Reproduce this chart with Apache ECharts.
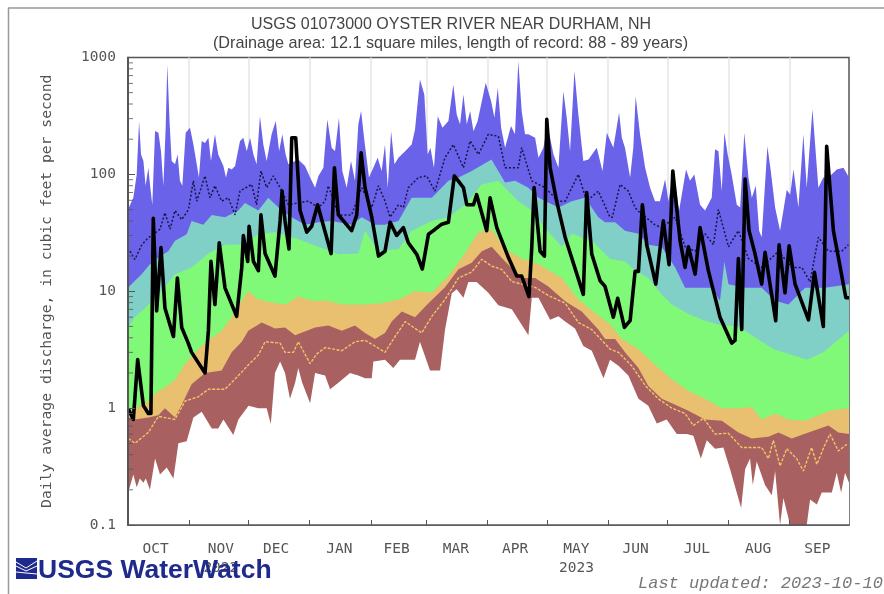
<!DOCTYPE html>
<html><head><meta charset="utf-8">
<style>html,body{margin:0;padding:0;background:#fff}#c{width:884px;height:594px}</style>
<script src="https://cdn.jsdelivr.net/npm/echarts@6/dist/echarts.min.js"></script>
</head><body><div id="c"></div>
<script>
// x values are days since 2022-10-01; y values are cubic feet per second
const monthStartDays=[31,61,92,123,151,182,212,243,273,304,335];
const monthLabelDays=[14,47,75,107,136,166,196,227,257,288,319,349];
const monthLabels=['OCT','NOV\n2022','DEC','JAN','FEB','MAR','APR','MAY\n2023','JUN','JUL','AUG','SEP'];
const yMinorTicks=[0.2,0.3,0.4,0.5,0.6,0.7,0.8,0.9,2,3,4,5,6,7,8,9,20,30,40,50,60,70,80,90,200,300,400,500,600,700,800,900];
const titleText='USGS 01073000 OYSTER RIVER NEAR DURHAM, NH';
const subtitleText='(Drainage area: 12.1 square miles, length of record: 88 - 89 years)';

const maxDays=[0,1,2.7,4.4,5.6,6.6,7.8,8.9,10.3,11.3,12.3,13.7,15.4,16.7,17.9,19.1,19.9,21.1,22.1,23.8,25.1,26.3,27.5,29.2,31.4,33.1,34.8,35.9,37.3,39,40.7,42,44,45.7,48.3,49.6,50.8,52.5,54.2,56.7,58.4,60.1,61.8,63.5,65.1,66.8,68.5,70.2,72.7,74.8,76.5,78.1,79.8,81.2,86.2,89.6,92.2,94.7,96.4,98.9,100.9,103.1,104.8,106.8,108.5,110.7,112.9,114.9,116.6,118,119.7,122,124.2,126.4,128.4,130.1,131.5,133.2,134.9,136.9,140.3,143.6,145.3,147.8,150,151.7,153.1,154.9,156.8,159.2,162.2,164.7,166.4,168.1,169.8,171.5,173.2,174.9,177,181.1,183.8,185.5,187.2,188.9,190.9,193.9,195.9,197.6,199.3,201,202.7,206.1,207.8,210.3,212.3,215.4,217.9,220.4,222.1,223.8,226,228,230.5,233.1,237.3,240.2,242.4,243.2,245.7,248.6,250,251.6,254.2,255.8,257,259.2,261.8,264.3,266.8,269.3,271.9,273.6,276.1,279,282.5,284.5,286.7,289.6,292.1,295.5,297.2,298.9,300.6,301.9,303.6,305.6,308.2,309.9,312,314.1,315.8,317.8,319.5,320.8,323.7,325.4,327.6,330.1,333.5,335.2,336.9,339.4,341.9,343.6,346.5,349.5,352,354.6,358.8,362.2,365];
const maxValues=[50,52,63,100,286,148,130,80,114,77,55,235,227,158,80,259,871,268,130,122,148,88,80,227,250,180,122,94,193,186,206,130,220,148,118,94,114,110,118,193,206,158,206,148,122,315,180,130,220,286,158,220,148,122,134,118,94,77,97,114,295,169,158,305,107,77,130,88,268,348,193,94,114,139,107,180,77,234,122,139,158,180,242,649,483,148,169,114,315,250,286,587,326,268,483,268,348,234,286,608,424,305,550,250,169,259,220,930,348,220,220,206,139,169,268,148,114,515,305,158,765,326,130,134,169,107,227,234,169,337,206,169,94,169,467,220,114,77,59,59,91,59,107,49,110,88,100,55,49,63,164,158,72,227,148,100,55,52,227,94,63,80,33,29,174,107,52,33,74,67,110,52,220,77,360,77,94,94,110,114,94];

const p90Days=[0,3.5,6.9,11.1,15.4,20.4,23.8,29.7,32.2,38.1,42.4,49.1,55.9,59.2,66,71,77.8,82.9,89.6,96.4,103,113.2,118.3,125,130,136.9,143.6,153.8,162.2,167.3,174,184,190.9,196,202.7,207.8,217.9,224.6,231.4,238.1,241.5,246.6,251.6,258.4,263.4,270.2,277,282,288.8,295.5,299.7,301.9,304,312.4,320.8,327.6,334.3,342.8,352.9,365];
const p90Values=[10.7,12.3,14,17,19.4,22,27,30.7,40,37,45,43,49,57,49,63,49,43,37,39,40,37,43,37,37,40,63,63,88,94,107,134,85,88,77,63,52,59,63,43,39,39,33,31,25,24,16,10.7,10.7,10.7,8.3,18,11.5,10.7,10.7,8.3,7.7,10.7,10.7,11.5];

const p75Days=[0,3.5,8.6,15.4,23.8,32.2,40.7,49.1,57.6,66,74.4,86,96.4,106.6,116.6,120,126.8,136.9,143.6,153.8,162.2,170.6,179,187.5,190.9,197.6,204.4,211.1,219.6,224.6,234.8,244,251.6,256.7,263.4,270.2,275.3,283.7,292.1,298.9,309,326.6,343.8,352,365];
const p75Values=[4.9,6,7.2,9.4,14,16,21,25,25,30.7,32,28,24,20.7,21,33,22,23,33,40,43,55,82,88,77,59,49,35,24,31,27,19,18,15,13,9.4,7.7,6.4,5.6,5.2,5,3.2,2.6,3,4.6];

const p25Days=[0,3.5,10.3,15.4,18.7,23.8,28.9,35.6,40.7,47.4,52.5,57.6,60.9,66,72.7,79.8,86.2,93,101,108.2,120,128.4,136.9,145.3,153.8,162.2,170.6,177.4,184.1,190.9,199.3,207.8,219.6,228,238.1,244,250,258.4,266.8,275.3,283.7,292.1,300.6,309,315.8,320.8,327.6,334.3,342.8,349.5,356.3,365];
const p25Values=[0.95,1,1.15,1.4,1.5,1.75,2.4,3.2,3.8,4.6,6,8.3,10,8.5,8,7.7,9,8.3,8.3,7.7,7.7,7.9,8.5,10,9.7,13.5,21,32,34,23,19,17,13,8.5,6.2,5.2,3.9,3.2,2.35,1.77,1.4,1.2,1,1,1.02,0.8,0.9,0.8,0.78,0.87,0.96,1];

const p10Days=[0,3.5,10.3,15.4,18.7,23.8,27.2,32.2,39,47.4,52.5,57.6,60.9,67.7,74.4,79.5,84.6,94.7,101.4,108.2,114.9,120,125,130.1,133.5,138.6,145.3,152.1,160.5,167.3,174,179.1,184.1,190.9,199.3,206.1,212.8,221.3,229.7,238.1,241.5,246.6,251.6,258.4,263.4,270.2,277,283.7,292.1,300.6,309,315.8,324.2,329.3,336,344.5,354.6,359.6,365];
const p10Values=[0.84,0.8,0.83,0.87,1,0.83,1.07,1.6,2,2.1,3,3.7,4.6,5.4,4.8,4.9,4.2,4.9,5.1,4.6,5.1,4.4,3.9,4.4,5.5,6.7,6,7.9,10.8,15.4,17.5,22,24,18,13,13,11,8.2,6.7,4.7,3.9,3.9,3,2.2,1.55,1.2,1.07,0.95,0.8,0.78,0.62,0.55,0.57,0.62,0.55,0.62,0.71,0.62,0.6];

const minDays=[0.5,2.7,4.4,6,7.8,9,11.1,13.7,16.2,19.6,23,25.5,29.7,33.1,37.3,42.4,45.7,48.3,53.3,55.9,61,66,70.2,72.3,74.4,77,79.5,82,84.6,86.2,88.2,92.2,94.7,99.8,102.3,106.5,112.4,116.6,120,123.4,124.2,130.1,134.3,137.7,145.3,147.8,152.9,158,160.5,163.9,166.4,169.8,172.3,176.5,182.4,187.5,194.3,202.7,204.4,207.8,213.7,217.9,221.3,226.3,230.5,234.8,240.7,241.5,244,248.3,253.3,258.4,263.4,267.7,272.7,277.8,282.9,286.2,290,293,297.2,301.4,304.8,310.4,312.4,314.9,316.3,318.3,322.5,325.9,327.6,330.1,331.8,335.2,343.6,345.3,348.7,351.2,356.3,358.8,361,363,365];
const minValues=[0.2,0.27,0.21,0.25,0.23,0.25,0.2,0.37,0.27,0.31,0.25,0.5,0.52,0.83,0.93,0.67,0.67,0.8,0.59,0.8,1.05,1,1,0.73,2,2.5,2,1.2,1.65,2.2,1.65,1.1,2,1.9,1.45,1.65,2,1.9,1.8,1.8,2.5,2.6,2.2,2.6,2.6,3.7,2.1,2.1,4.7,9.6,10.4,8.8,12,12,9.7,7.6,7,4.2,8.8,8.8,5.7,6.1,5.5,4.8,3.4,3.1,1.8,1.77,2.6,2.3,1.9,1.2,1.05,0.74,0.8,0.6,0.6,0.58,0.37,0.53,0.45,0.46,0.3,0.14,0.3,0.37,0.22,0.35,0.22,0.18,0.29,0.1,0.17,0.1,0.1,0.165,0.15,0.19,0.19,0.28,0.19,0.28,0.23];

const lowLineDays=[0.2,3.5,10.3,15.4,23.8,28.9,35.6,40.7,49.1,55.9,61,66,69.4,77,79.5,83.7,86.2,92.2,95.5,99.8,108.2,115,120,125,130.1,135.2,140.3,148.7,153.8,160.5,167.3,174,179.1,184.1,189.2,194.3,206.1,212.8,221.3,228,234.8,244,248.3,255,262,268.5,275.3,282,286.2,291.3,297.2,303.9,310.7,315.8,320.8,324.2,326.7,330.1,333.5,338.5,341.9,346.1,348.7,352.9,355.4,359.6,363.9];
const lowLineValues=[0.55,0.5,0.62,0.85,0.8,1.15,1.25,1.45,1.45,1.9,2.35,2.85,3.7,3.6,3,3,3.7,2.4,2.9,3.3,3.1,3.7,3.8,3.4,3,4.1,5.5,4.4,6.1,8.5,13,14.6,18.8,16.4,15.4,12.1,10.8,9.2,7.9,5.4,4.7,3.2,3,2.3,1.55,1.2,1,0.9,0.71,0.82,0.6,0.61,0.46,0.46,0.46,0.37,0.53,0.32,0.45,0.37,0.29,0.46,0.33,0.49,0.6,0.43,0.49];

const meanDays=[1,3.5,7,10.3,12.8,16.2,18.7,21.3,23.8,27.2,30.6,33.1,34.8,39,41.5,44,47.4,50.8,54.2,56.7,62.6,65.1,67.3,70.2,73.6,77,81.2,91.3,96.4,99.8,101.4,106.5,113.2,118.3,123.4,126.8,130.1,132.7,136.9,139.4,141.9,147,151.2,155.4,160.5,164.7,169.8,173.2,177.4,182.4,187.5,190.9,197.6,199.3,204.4,211.1,217.9,221.3,228,232.2,238.1,244,245.2,249.1,253.3,256.7,259.2,266.8,270.2,277,282,287.1,292.1,296.4,298.9,304,309,314.1,320.8,329.3,336,341.1,345.3,349.5,354.6,361.3,364.7];
const meanValues=[22,18.7,25,28.7,30.7,34,47,34,49,41,50,88,59,97,63,80,59,63,45,72,82,55,107,77,97,77,55,59,52,59,80,45,45,77,52,80,59,43,55,52,77,94,97,72,139,180,114,193,148,220,212,114,114,169,88,77,59,59,100,59,72,43,43,82,72,52,47,37,35,43,24,22,31,25,50,24,33,19,16,22,16,16,12,29,22,22,25,21,21];

const flowDays=[0.2,2.7,4.9,7.8,10.3,11.6,12.8,14.5,16.7,18.7,23,25,27.2,30.5,32.2,39,40.7,42,44,46.2,49.1,55,57.6,58.4,60.6,61.3,63.5,66,67.3,69.4,74.4,77,78,79.5,81.5,82.9,84.9,87.1,90.5,93,96,102.8,104.5,106.5,113.2,115.8,118,120,123.4,126.8,130.1,132.7,136,139.4,141.9,146.2,149,152.1,154.6,158.8,162.2,165.2,169.8,171.5,174.9,176.5,181.6,183.3,186.7,192.6,196.8,199.3,203,204.4,205.6,208.6,210.8,212,213.7,217,221.3,230.5,232.2,234.8,239,241.5,245.7,247.9,251.3,254.2,256.7,258.4,260.4,262.6,267.2,271,273.9,275.8,279.5,282,283.7,287.1,289.6,293.8,299.7,305.6,307.3,309,310.7,312.4,314.4,317.4,320.8,322.5,327.9,329.6,332.6,334.7,337.7,344.5,347.5,352,353.7,357.1,363.4,365];
const flowValues=[0.98,0.8,2.6,1.05,0.9,0.9,42,6.8,23.6,7.2,4.1,13,4.9,3.6,3,2,4.6,18,7.7,26,10.7,6.1,16,30,18,36,18,15,45,21,13.5,40,72,40,23,206,206,49,32,36,55,21,114,45,33,45,153,77,43,20,22,39,30,35,26,20.7,15.5,30.7,33,37.5,39,97,77,55,55,67,33,63,35,19.4,13.5,13.5,9,23.6,77,22,20,296,114,59,29,9.4,70,20.7,12.3,11,6,8.7,4.9,5.6,14.8,14.8,55,25,11.5,40,16.9,107,27,16,24,14,35,15,6,3.6,3.8,19,4.7,91,33,21,11.5,21.5,5.6,25,9.7,24.5,11.5,5.7,14.5,5,174,33,8.8,8.8];

const pairs=(xs,ys)=>xs.map((x,i)=>[x,ys[i]]);
function minAt(day){ // lowest nearby record minimum, so a grid stub stays in the white area
  let v=Infinity;
  minDays.forEach((d,i)=>{ if(Math.abs(d-day)<3) v=Math.min(v,minValues[i]); });
  return v===Infinity?0.1:v;
}
const band=(name,days,vals,color,z,extra)=>Object.assign({
  name,type:'line',xAxisIndex:0,yAxisIndex:0,data:pairs(days,vals),showSymbol:false,symbol:'none',z,silent:true,animation:false,
  lineStyle:{width:0},itemStyle:{color},areaStyle:{color,opacity:1,origin:'start'}},extra||{});

const mono='"DejaVu Sans Mono", monospace';
const inkColor='#555';
const gridColor='#e4e4e4';
const edge={show:true,lineStyle:{color:inkColor,width:1.5}};
const logLine={logBase:10,min:0.1,max:1000};
const chart=echarts.init(document.getElementById('c'),null,{renderer:'canvas'});
chart.setOption({
  animation:false,backgroundColor:'#fff',
  title:[
    {text:titleText,left:446,top:12,textAlign:'center',textStyle:{fontFamily:'"Liberation Sans"',fontSize:16,fontWeight:'normal',color:'#444'}},
    {text:subtitleText,left:445.5,top:31,textAlign:'center',textStyle:{fontFamily:'"Liberation Sans"',fontSize:16.2,fontWeight:'normal',color:'#444'}}
  ],
  grid:{left:128,right:35,top:57.5,bottom:69,show:true,borderColor:inkColor,borderWidth:1.5,backgroundColor:'#fff'},
  xAxis:[
    {type:'value',min:0,max:365,
      axisLine:{show:false},
      axisTick:{show:false,customValues:monthStartDays},
      splitLine:{show:true,lineStyle:{color:gridColor,width:1.5}},
      axisLabel:{customValues:monthLabelDays,margin:15,fontFamily:mono,fontSize:14.5,color:inkColor,lineHeight:19,
        formatter:v=>monthLabels[monthLabelDays.indexOf(v)]}},
    {type:'value',min:0,max:365,position:'bottom',z:20,
      axisLine:edge,
      axisTick:{show:true,inside:true,length:5,customValues:monthStartDays,lineStyle:{color:inkColor,width:1}},
      splitLine:{show:false},axisLabel:{show:false}}
  ],
  yAxis:[
    Object.assign({type:'log',z:20,
      name:'Daily average discharge, in cubic feet per second',nameLocation:'middle',nameGap:73,nameRotate:90,
      nameTextStyle:{fontFamily:mono,fontSize:14.7,color:inkColor},
      axisLine:edge,
      axisTick:{show:true,inside:true,length:7,lineStyle:{color:inkColor,width:1}},
      minorTick:{show:false},
      splitLine:{show:false},
      axisLabel:{margin:12,fontFamily:mono,fontSize:14.5,color:inkColor,formatter:v=>String(v)}},logLine),
    Object.assign({type:'log',z:20,position:'right',axisLine:edge,axisTick:{show:false},
      splitLine:{show:false},axisLabel:{show:false}},logLine)
  ],
  series:[
    band('Maximum',maxDays,maxValues,'#6a62e8',1),
    band('90th percentile',p90Days,p90Values,'#80d0c8',2),
    band('75th percentile',p75Days,p75Values,'#80f878',3),
    band('25th percentile',p25Days,p25Values,'#e8c070',4),
    band('10th percentile',p10Days,p10Values,'#a86060',5),
    band('Minimum',minDays,minValues,'#ffffff',6,{markLine:{silent:true,symbol:'none',animation:false,label:{show:false},
      lineStyle:{color:gridColor,width:1.5,type:'solid'},
      data:monthStartDays.map(d=>[{coord:[d,0.1]},{coord:[d,minAt(d)]}])}}),
    {name:'Low line',type:'line',data:pairs(lowLineDays,lowLineValues),showSymbol:false,symbol:'none',z:7,silent:true,
      lineStyle:{color:'#f0c468',width:1.4,type:[3,1.5]}},
    {name:'Mean line',type:'line',data:pairs(meanDays,meanValues),showSymbol:false,symbol:'none',z:8,silent:true,
      lineStyle:{color:'#15154a',width:1.5,type:[2,2]}},
    {name:'Daily discharge',type:'line',data:pairs(flowDays,flowValues),showSymbol:false,symbol:'none',z:9,silent:true,
      lineStyle:{color:'#000',width:3.6,join:'round'}},
    {name:'Minor ticks',type:'scatter',data:yMinorTicks.map(v=>[0,v]),symbol:'rect',symbolSize:[5,1],symbolOffset:[2.5,0],
      itemStyle:{color:inkColor},z:21,silent:true,clip:false}
  ],
  graphic:[
    {type:'line',shape:{x1:8,y1:8,x2:884,y2:8},style:{stroke:'#999',lineWidth:1.5},silent:true},
    {type:'line',shape:{x1:8.5,y1:8,x2:8.5,y2:594},style:{stroke:'#999',lineWidth:1.5},silent:true},
    {type:'rect',shape:{x:16,y:558,width:21,height:21},style:{fill:'#1e2a8c'},z:20,silent:true},
    {type:'polyline',shape:{points:[[16,562],[26,568],[37,561]]},style:{stroke:'#fff',fill:null,lineWidth:1},z:21,silent:true},
    {type:'polyline',shape:{points:[[16,566],[26,571],[37,566]]},style:{stroke:'#fff',fill:null,lineWidth:1},z:21,silent:true},
    {type:'polyline',shape:{points:[[16,572],[26,573],[37,574]]},style:{stroke:'#fff',fill:null,lineWidth:1},z:21,silent:true},
    {type:'text',left:38,top:557,z:20,silent:true,style:{text:'USGS WaterWatch',fontFamily:'"Liberation Sans"',fontWeight:'bold',fontSize:26.5,fill:'#1e2a8c'}},
    {type:'text',left:638,top:575,z:20,silent:true,style:{text:'Last updated: 2023-10-10',fontFamily:'"Liberation Mono"',fontStyle:'italic',fontSize:17,fill:'#777'}}
  ]
});
</script></body></html>
